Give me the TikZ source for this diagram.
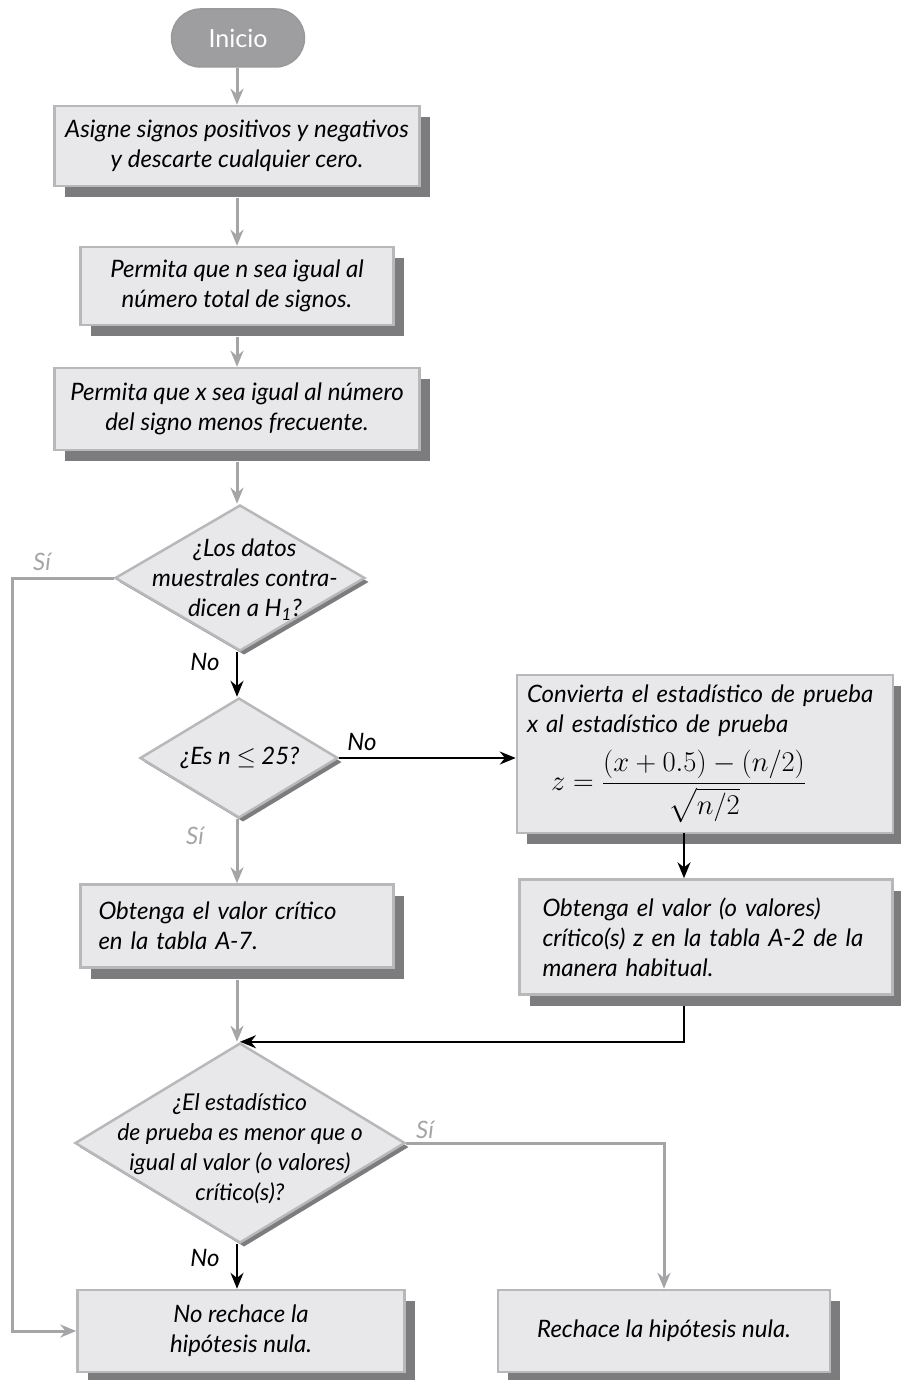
\documentclass[tikz,border=0pt]{standalone}
\usepackage{amsmath}
\usepackage{fontspec}
\setmainfont{Lato}
\usetikzlibrary{arrows.meta,shapes.geometric,shapes.misc,shadows}
\definecolor{boxfill}{HTML}{E8E8EA}
\definecolor{boxline}{HTML}{B8B8BA}
\definecolor{shad}{HTML}{7C7C7E}
\definecolor{arrg}{HTML}{A5A5A7}
\definecolor{pillc}{HTML}{9E9EA0}
\tikzset{
  txtfont/.style={font=\itshape\fontsize{24}{30}\selectfont},
  stepbox/.style={rectangle, draw=boxline, line width=2.5pt, fill=boxfill, inner sep=0pt, txtfont,
    drop shadow={shadow xshift=10pt, shadow yshift=-11pt, fill=shad, opacity=1}},
  dia/.style={diamond, draw=boxline, line width=2.5pt, fill=boxfill, inner sep=0pt,
    drop shadow={shadow xshift=4pt, shadow yshift=-4pt, fill=shad, opacity=1}},
  diatext/.style={txtfont, align=center, inner sep=0pt},
  startnode/.style={rounded rectangle, fill=pillc, draw=gray!80, line width=1.5pt, text=white,
    font=\fontsize{25}{28}\selectfont, minimum width=133pt, minimum height=58pt, inner sep=0pt},
  garr/.style={draw=arrg, line width=3pt, -{Stealth[length=16pt,width=13pt]}},
  barr/.style={draw=black, line width=2pt, -{Stealth[length=16pt,width=13pt]}},
  silab/.style={text=arrg, txtfont},
  nolab/.style={text=black, txtfont},
}
\begin{document}
\begin{tikzpicture}[x=1pt,y=-1pt]
\useasboundingbox[fill=white] (0,0) rectangle (901,1380);
\coordinate (col) at (237,0);
\node[startnode] (ini) at (238,38) {Inicio};
\node[stepbox, minimum width=365pt, minimum height=80pt, align=center] (b1) at (237,146)
  {Asigne signos positivos y negativos\\y descarte cualquier cero.};
\node[stepbox, minimum width=313pt, minimum height=78pt, align=center] (b2) at (237,286)
  {Permita que n sea igual al\\número total de signos.};
\node[stepbox, minimum width=365pt, minimum height=82pt, align=center] (b3) at (237,409)
  {Permita que x sea igual al número\\del signo menos frecuente.};
\node[dia, minimum width=250pt, minimum height=146pt] (d1) at (240,578) {};
\node[diatext] (t1) at (245,580) {¿Los datos\\muestrales contra-\\dicen a H\textsubscript{1}?};
\node[dia, minimum width=198pt, minimum height=120pt] (d2) at (239,758) {};
\node[diatext] (t2) at (240,758) {¿Es n $\le$ 25?};
\node[stepbox, minimum width=376pt, minimum height=158pt, text width=356pt, align=left] (bc) at (705,754)
  {Convierta el estadístico de prueba\\x al estadístico de prueba\\[12pt]
   \hspace*{24pt}\scalebox{1.15}{$z=\dfrac{(x+0.5)-(n/2)}{\sqrt{n/2}}$}};
\node[stepbox, minimum width=313pt, minimum height=83pt, text width=277pt, align=left] (b4) at (237,926)
  {Obtenga el valor crítico\\en la tabla A-7.};
\node[stepbox, minimum width=373pt, minimum height=115pt, text width=327pt, align=left] (b5) at (706,937)
  {Obtenga el valor (o valores)\\crítico(s) z en la tabla A-2 de la\\manera habitual.};
\node[dia, minimum width=330pt, minimum height=200pt] (d3) at (240,1143) {};
\node[diatext, font=\itshape\fontsize{23}{30}\selectfont] (t3) at (240,1149) {¿El estadístico\\de prueba es menor que o\\igual al valor (o valores)\\crítico(s)?};
\node[stepbox, minimum width=327pt, minimum height=82pt, align=center] (b6) at (241,1331)
  {No rechace la\\hipótesis nula.};
\node[stepbox, minimum width=332pt, minimum height=82pt, align=center] (b7) at (664,1331)
  {Rechace la hipótesis nula.};
% connectors
\draw[garr] (ini.south -| col) -- (b1.north -| col);
\draw[garr] ([yshift=-11pt]b1.south -| col) -- (b2.north -| col);
\draw[garr] ([yshift=-11pt]b2.south -| col) -- (b3.north -| col);
\draw[garr] ([yshift=-11pt]b3.south -| col) -- (d1.north -| col);
\coordinate (c1) at (12,578);
\draw[garr] (d1.west) -- (c1) |- (b6.west);
\node[silab] (s1) at (42,562) {Sí};
\draw[barr] (d1.south -| col) -- (d2.north -| col);
\node[nolab] (n1) at (205,662) {No};
\draw[barr] (d2.east) -- (d2.east -| bc.west);
\node[nolab] (n2) at (362,742) {No};
\draw[garr] (d2.south -| col) -- (b4.north -| col);
\node[silab] (s2) at (195,836) {Sí};
\coordinate (c2) at (684,833);
\draw[barr] (c2) -- (c2 |- b5.north);
\coordinate (c3) at (684,1006);
\draw[barr] (c3) |- (d3.north);
\draw[garr] ([yshift=-11pt]b4.south -| col) -- (d3.north -| col);
\draw[garr] (d3.east) -| (b7.north);
\node[silab] (s3) at (425,1130) {Sí};
\draw[barr] (d3.south -| col) -- (b6.north -| col);
\node[nolab] (n3) at (205,1258) {No};
\end{tikzpicture}
\end{document}
